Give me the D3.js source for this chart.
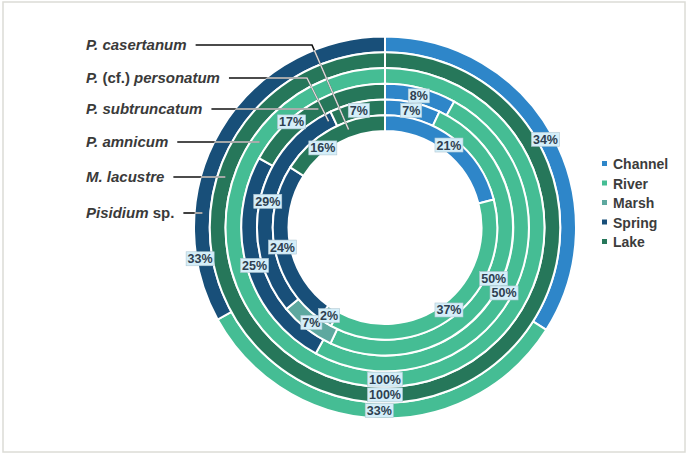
<!DOCTYPE html>
<html>
<head>
<meta charset="utf-8">
<script src="https://cdn.jsdelivr.net/npm/d3@7/dist/d3.min.js"></script>
<style>
  body { margin: 0; background: #fff; }
  svg { display: block; font-family: "Liberation Sans", Arial, sans-serif; }
</style>
</head>
<body>
<svg id="chart" width="687" height="455"></svg>
<script>
// Habitats (slice order, clockwise from 12 o'clock) and their colours
const habitats = ["Channel", "River", "Marsh", "Spring", "Lake"];
const habitatColors = ["#2e86c9", "#45bd94", "#5ea89f", "#184f79", "#26775a"];

// Species rings, outermost first
const speciesNames = ["Pisidium sp.", "M. lacustre", "P. amnicum", "P. subtruncatum", "P. (cf.) personatum", "P. casertanum"];

// Percentage of records per habitat (Channel, River, Marsh, Spring, Lake)
const pisidiumSp    = [34, 33, 0, 33, 0];
const mLacustre     = [0, 0, 0, 0, 100];
const pAmnicum      = [0, 100, 0, 0, 0];
const pSubtruncatum = [8, 50, 0, 25, 17];
const pPersonatum   = [7, 50, 7, 29, 7];
const pCasertanum   = [21, 37, 2, 24, 16];

const ringValues = [pisidiumSp, mLacustre, pAmnicum, pSubtruncatum, pPersonatum, pCasertanum];

// Species name pieces: [text, italic]
const speciesLabelParts = [
  [["Pisidium", true], [" sp.", false]],
  [["M. lacustre", true]],
  [["P. amnicum", true]],
  [["P. subtruncatum", true]],
  [["P.", true], [" (cf.) ", false], ["personatum", true]],
  [["P. casertanum", true]]
];

// ---- layout ----
const width = 687, height = 455;
const cx = 385, cy = 227.5;
const outerR = 191, innerR = 96.5;
const step = (outerR - innerR) / ringValues.length;

// species label rows (y) and leader-line geometry: optional elbow x, end angle on ring (deg)
const labelLeftX = 86;
const speciesLayout = [
  { y: 213, elbowX: null, endAngle: null },
  { y: 177, elbowX: null, endAngle: null },
  { y: 142, elbowX: null, endAngle: null },
  { y: 109, elbowX: null, endAngle: null },
  { y: 78,  elbowX: 307,  endAngle: 332 },
  { y: 45,  elbowX: 312,  endAngle: 339.6 }
];

// value labels moved off their centroid: key "ring-habitat" -> [angle deg, radius]
const labelMoves = {
  "0-3": [260.4, 187.5],
  "3-4": [318.5, 141],
  "5-4": [322, 101]
};

const svg = d3.select("#chart");

// frame
svg.append("rect")
  .attr("x", 3).attr("y", 2).attr("width", 682).attr("height", 450)
  .attr("fill", "none").attr("stroke", "#dcdcd6").attr("stroke-width", 1.5);

const g = svg.append("g").attr("transform", `translate(${cx},${cy})`);

const pie = d3.pie().sort(null).value(d => d.value);
const ringColor = d3.scaleOrdinal().domain(habitats).range(habitatColors);

const rings = ringValues.map((vals, i) => {
  const r1 = outerR - i * step;
  const r0 = r1 - step;
  const slices = pie(vals.map((v, k) => ({ value: v, habitat: habitats[k], k })))
    .filter(s => s.data.value > 0);
  return { i, r0, r1, slices };
});

// slices
rings.forEach(ring => {
  const arc = d3.arc().innerRadius(ring.r0).outerRadius(ring.r1);
  g.append("g").selectAll("path")
    .data(ring.slices)
    .join("path")
    .attr("d", arc)
    .attr("fill", d => ringColor(d.data.habitat))
    .attr("stroke", "#fff")
    .attr("stroke-width", 2);
});

// seam at 12 o'clock (full rings have no radial edge of their own)
g.append("line")
  .attr("x1", 0).attr("y1", -innerR)
  .attr("x2", 0).attr("y2", -outerR)
  .attr("stroke", "#fff").attr("stroke-width", 2);

// ---- species labels + leader lines ----
const defs = svg.append("defs");
defs.append("clipPath").attr("id", "donutArea")
  .append("path")
  .attr("transform", `translate(${cx},${cy})`)
  .attr("d", d3.arc().innerRadius(innerR).outerRadius(outerR).startAngle(0).endAngle(2 * Math.PI)());

const labelsG = svg.append("g");
const linesG = svg.append("g");

speciesLabelParts.forEach((parts, i) => {
  const lay = speciesLayout[i];
  const t = labelsG.append("text")
    .attr("x", labelLeftX).attr("y", lay.y + 5)
    .attr("font-size", 15).attr("font-weight", "bold")
    .attr("fill", "#3a3a3a");
  parts.forEach(([txt, it]) => {
    t.append("tspan").attr("font-style", it ? "italic" : "normal")
      .attr("xml:space", "preserve").text(txt);
  });
  const bb = t.node().getBBox();
  const x0 = bb.x + bb.width + 9;

  const ring = rings[i];
  const rMid = (ring.r0 + ring.r1) / 2;
  let pts;
  if (lay.elbowX == null) {
    const dy = lay.y - cy;
    const ex = cx - Math.sqrt(rMid * rMid - dy * dy);
    pts = [[x0, lay.y], [ex, lay.y]];
  } else {
    const a = lay.endAngle * Math.PI / 180;
    pts = [[x0, lay.y], [lay.elbowX, lay.y], [cx + rMid * Math.sin(a), cy - rMid * Math.cos(a)]];
  }
  const line = d3.line();
  linesG.append("path").attr("d", line(pts))
    .attr("fill", "none").attr("stroke", "#111").attr("stroke-width", 1.6);
  linesG.append("path").attr("d", line(pts))
    .attr("clip-path", "url(#donutArea)")
    .attr("fill", "none").attr("stroke", "#d4d4d4").attr("stroke-width", 1.6);
});

// ---- value labels ----
const valG = g.append("g");
rings.forEach(ring => {
  const arc = d3.arc().innerRadius(ring.r0).outerRadius(ring.r1);
  ring.slices.forEach(s => {
    const key = `${ring.i}-${s.data.k}`;
    let x, y;
    if (labelMoves[key]) {
      const [ang, rr] = labelMoves[key];
      const a = ang * Math.PI / 180;
      x = rr * Math.sin(a); y = -rr * Math.cos(a);
    } else {
      [x, y] = arc.centroid(s);
    }
    const lg = valG.append("g").attr("transform", `translate(${x},${y})`);
    const rect = lg.append("rect");
    const t = lg.append("text")
      .attr("text-anchor", "middle").attr("dy", "0.36em")
      .attr("font-size", 12.5).attr("font-weight", "bold")
      .attr("fill", "#2e3f50")
      .text(`${s.data.value}%`);
    const w = t.node().getComputedTextLength();
    rect.attr("x", -w / 2 - 1.5).attr("y", -7)
      .attr("width", w + 3).attr("height", 14)
      .attr("fill", "#d4eef9").attr("stroke", "#b3c8d3").attr("stroke-width", 0.6);
  });
});

// ---- legend ----
const legend = svg.append("g").attr("transform", "translate(602,164)");
habitats.forEach((h, i) => {
  const row = legend.append("g").attr("transform", `translate(0,${i * 19.5})`);
  row.append("rect").attr("x", 0).attr("y", -3).attr("width", 5).attr("height", 5)
    .attr("fill", ringColor(h));
  row.append("text").attr("x", 11).attr("y", 5)
    .attr("font-size", 14).attr("font-weight", "bold").attr("fill", "#3c3c3c")
    .text(h);
});
</script>
</body>
</html>
